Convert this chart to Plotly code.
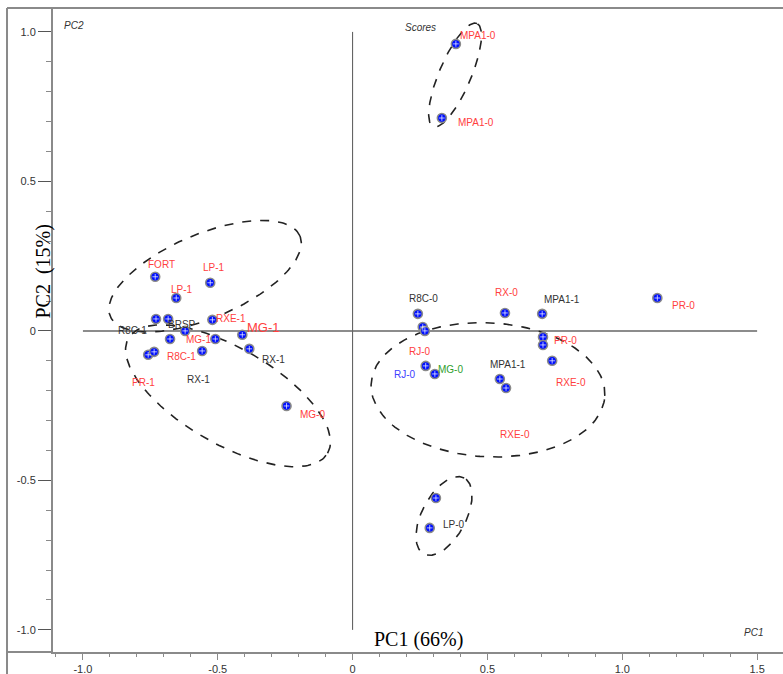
import numpy as np
import plotly.graph_objects as go

# ---- data ----
score_pc1 = [-0.732, -0.528, -0.654, -0.729, -0.684, -0.520, -0.621, -0.677, -0.509, -0.409,
             -0.383, -0.758, -0.736, -0.558, -0.245,
             0.242, 0.260, 0.268, 0.565, 0.703, 1.130, 0.706, 0.706, 0.740, 0.271, 0.305,
             0.546, 0.569, 0.383, 0.331, 0.309, 0.286]
score_pc2 = [0.181, 0.161, 0.110, 0.040, 0.040, 0.037, 0.000, -0.027, -0.027, -0.013,
             -0.060, -0.080, -0.070, -0.067, -0.251,
             0.057, 0.013, 0.000, 0.060, 0.057, 0.110, -0.020, -0.047, -0.100, -0.117, -0.144,
             -0.161, -0.191, 0.960, 0.712, -0.559, -0.659]

label_text = ["FORT", "LP-1", "LP-1", "RXE-1", "BRSP", "R8C-1", "MG-1", "MG-1", "RX-1", "R8C-1",
              "PR-1", "RX-1", "MG-0", "R8C-0", "RX-0", "MPA1-1", "PR-0", "PR-0", "RXE-0", "RJ-0",
              "RJ-0", "MG-0", "MPA1-1", "RXE-0", "MPA1-0", "MPA1-0", "LP-0"]
label_pc1 = [-0.710, -0.513, -0.632, -0.450, -0.632, -0.818, -0.572, -0.331, -0.294, -0.636,
             -0.777, -0.572, -0.149, 0.264, 0.569, 0.777, 1.227, 0.788, 0.810, 0.249,
             0.193, 0.364, 0.576, 0.602, 0.465, 0.457, 0.375]
label_pc2 = [0.221, 0.211, 0.137, 0.040, 0.020, 0.000, -0.030, 0.013, -0.094, -0.087,
             -0.174, -0.164, -0.281, 0.110, 0.127, 0.104, 0.084, -0.033, -0.174, -0.070,
             -0.147, -0.130, -0.114, -0.348, 0.987, 0.696, -0.649]
label_group = ["r", "r", "r", "r", "k", "k", "r", "R", "k", "r",
               "r", "k", "r", "k", "r", "k", "r", "r", "r", "r",
               "b", "g", "k", "r", "r", "r", "k"]

x_tick_vals = [-1.0, -0.5, 0, 0.5, 1.0, 1.5]
x_tick_text = ["-1.0", "-0.5", "0", "0.5", "1.0", "1.5"]
y_tick_vals = [-1.0, -0.5, 0, 0.5, 1.0]
y_tick_text = ["-1.0", "-0.5", "0", "0.5", "1.0"]

# group ellipses: centre (PC1, PC2), semi-axes in px, rotation in degrees
ellipse_centres = [(-0.547, 0.183), (-0.462, -0.217), (0.502, -0.197), (0.380, 0.856), (0.339, -0.619)]
ellipse_axes = [(103, 42), (115, 48), (117, 67), (56, 16), (43, 22)]
ellipse_angles = [23, -30, -3, 67, 62]

X_RANGE = [-1.111, 1.596]
Y_RANGE = [-1.074, 1.080]
PX_X = 730 / (X_RANGE[1] - X_RANGE[0])
PX_Y = 644 / (Y_RANGE[1] - Y_RANGE[0])

label_colors = {"r": "#ff4040", "R": "#ff4040", "k": "#333333", "b": "#4040ff", "g": "#2e9e2e"}

fig = go.Figure()

# reference cross lines
fig.add_shape(type="line", x0=0, x1=0, y0=-1.0, y1=1.0, line=dict(color="#555555", width=1), layer="below")
fig.add_shape(type="line", x0=-1.0, x1=1.5, y0=0, y1=0, line=dict(color="#666666", width=1.5), layer="below")

# ellipses
t = np.linspace(0, 2 * np.pi, 200)
for (cx, cy), (a, b), ang in zip(ellipse_centres, ellipse_axes, ellipse_angles):
    th = np.deg2rad(ang)
    dx = a * np.cos(t) * np.cos(th) - b * np.sin(t) * np.sin(th)
    dy = a * np.cos(t) * np.sin(th) + b * np.sin(t) * np.cos(th)
    fig.add_trace(go.Scatter(x=cx + dx / PX_X, y=cy + dy / PX_Y, mode="lines",
                             line=dict(color="#222222", width=1.6, dash="dash"),
                             hoverinfo="skip", showlegend=False))

# points
fig.add_trace(go.Scatter(x=score_pc1, y=score_pc2, mode="markers",
                         marker=dict(symbol="circle", size=9, color="#0010ff",
                                     line=dict(color="#8a8a8a", width=1.6)),
                         showlegend=False))
fig.add_trace(go.Scatter(x=score_pc1, y=score_pc2, mode="markers",
                         marker=dict(symbol="cross-thin", size=4,
                                     line=dict(color="rgba(255,255,255,0.7)", width=1)),
                         hoverinfo="skip", showlegend=False))

# labels
for txt, lx, ly, g in zip(label_text, label_pc1, label_pc2, label_group):
    fig.add_annotation(x=lx, y=ly, text=txt, showarrow=False, xanchor="center", yanchor="middle",
                       font=dict(family="Liberation Sans, Arial", size=13 if g == "R" else 10,
                                 color=label_colors[g]))

# axis titles and corner captions
fig.add_annotation(x=0.243, y=-1.033, text="PC1 (66%)", showarrow=False,
                   font=dict(family="Liberation Serif, Times New Roman", size=20, color="black"))
fig.add_annotation(xref="paper", yref="paper", x=-0.0315, y=0.59, text="PC2  (15%)", textangle=-90,
                   showarrow=False, font=dict(family="Liberation Serif, Times New Roman", size=20, color="black"))
fig.add_annotation(xref="paper", yref="paper", x=0.012, y=0.984, xanchor="left", text="<i>PC2</i>",
                   showarrow=False, font=dict(family="Liberation Sans, Arial", size=10, color="#333333"))
fig.add_annotation(xref="paper", yref="paper", x=0.503, y=0.981, text="<i>Scores</i>", showarrow=False,
                   font=dict(family="Liberation Sans, Arial", size=10, color="#333333"))
fig.add_annotation(xref="paper", yref="paper", x=0.975, y=0.019, text="<i>PC1</i>", showarrow=False,
                   font=dict(family="Liberation Sans, Arial", size=10, color="#333333"))

# outer frame
frame = dict(color="#8a8a8a", width=2)
fig.add_shape(type="line", xref="paper", yref="paper", x0=-0.063, x1=1.0, y0=1.0, y1=1.0, line=frame)
fig.add_shape(type="line", xref="paper", yref="paper", x0=-0.063, x1=-0.063, y0=-0.04, y1=1.0, line=frame)
fig.add_shape(type="line", xref="paper", yref="paper", x0=-0.063, x1=0.0, y0=0.0, y1=0.0, line=frame)

fig.update_layout(
    width=783, height=674,
    margin=dict(l=53, r=0, t=8, b=22),
    paper_bgcolor="white", plot_bgcolor="white",
    xaxis=dict(range=X_RANGE, showgrid=False, zeroline=False, showline=True, linecolor="#8a8a8a",
               linewidth=2, ticks="outside", ticklen=6, tickcolor="#8a8a8a", tickwidth=1,
               tickvals=x_tick_vals, ticktext=x_tick_text,
               tickfont=dict(family="Liberation Sans, Arial", size=11, color="#333333"),
               minor=dict(dtick=0.1, tick0=0, ticks="outside", ticklen=3, tickcolor="#8a8a8a")),
    yaxis=dict(range=Y_RANGE, showgrid=False, zeroline=False, showline=True, linecolor="#8a8a8a",
               linewidth=2, ticks="outside", ticklen=13, tickcolor="#555555", tickwidth=1,
               tickvals=y_tick_vals, ticktext=y_tick_text,
               tickfont=dict(family="Liberation Sans, Arial", size=11, color="#333333"),
               minor=dict(dtick=0.1, tick0=0, ticks="outside", ticklen=5, tickcolor="#8a8a8a")),
)

fig.write_html("out.html")
